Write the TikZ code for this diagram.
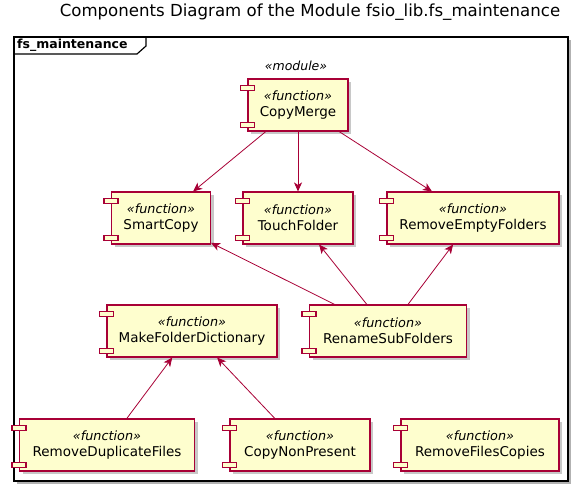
\documentclass[tikz,border=0pt]{standalone}
\usepackage{fontspec}
\setmainfont{DejaVu Sans}
\usetikzlibrary{arrows.meta,calc,shadows}
\definecolor{umlred}{HTML}{A80036}
\definecolor{umlfill}{HTML}{FEFECE}
\newcommand{\compfn}[1]{{\fontsize{12.8}{14}\selectfont\itshape «function»}\\#1}

\begin{document}
\begin{tikzpicture}[x=1pt,y=-1pt,>={Stealth[length=9pt,width=8pt,inset=2.5pt]},
  comp/.style={draw=umlred,fill=umlfill,line width=1.1pt,minimum height=52pt,inner sep=0pt,
    align=center,font=\fontsize{13.5}{16}\selectfont,
    drop shadow={shadow xshift=3pt,shadow yshift=-3pt,fill=black!30,opacity=0.7}},
  comptab/.style={draw=umlred,fill=umlfill,line width=1.1pt},
  dep/.style={draw=umlred,line width=0.8pt,->}]
  \useasboundingbox (0,0) rectangle (577,489);
  \node[font=\fontsize{16.6}{18}\selectfont] (title) at (310,12) {Components Diagram of the Module fsio\_lib.fs\_maintenance};

  % package frame
  \fill[black!30] (17,40) rectangle (571,484);
  \draw[line width=1.2pt,fill=white] (14,37) rectangle (568,481);
  \draw[line width=1.2pt] (14,54) -- (137,54) -- (146,46) -- (146,37);
  \node[anchor=west,inner sep=0pt,font=\bfseries\fontsize{12.5}{14}\selectfont] (frametitle) at (17,45.5) {fs\_maintenance};
  \node[font=\itshape\fontsize{12.5}{14}\selectfont] (modlabel) at (296,66) {«module»};

  \node[comp,minimum width=100pt] (copymerge) at (298,105) {\compfn{CopyMerge}};
  \node[comp,minimum width=99pt] (smartcopy) at (161,218) {\compfn{SmartCopy}};
  \node[comp,minimum width=110pt] (touchfolder) at (298,218) {\compfn{TouchFolder}};
  \node[comp,minimum width=172pt] (removeempty) at (473,218) {\compfn{RemoveEmptyFolders}};
  \node[comp,minimum width=170pt] (makedict) at (192,331) {\compfn{MakeFolderDictionary}};
  \node[comp,minimum width=157pt] (renamesub) at (388,331) {\compfn{RenameSubFolders}};
  \node[comp,minimum width=175pt] (removedup) at (107,445) {\compfn{RemoveDuplicateFiles}};
  \node[comp,minimum width=140pt] (copynonpres) at (300,445) {\compfn{CopyNonPresent}};
  \node[comp,minimum width=158pt] (removecopies) at (480,445) {\compfn{RemoveFilesCopies}};

  \foreach \c in {copymerge,smartcopy,touchfolder,removeempty,makedict,renamesub,removedup,copynonpres,removecopies} {
    \draw[comptab] ($(\c.north west)+(-7,7)$) rectangle ++(14,5);
    \draw[comptab] ($(\c.south west)+(-7,-9)$) rectangle ++(14,5);
  }

  \draw[dep] (copymerge) -- (smartcopy);
  \draw[dep] (copymerge) -- (touchfolder);
  \draw[dep] (copymerge) -- (removeempty);
  \draw[dep] (renamesub) -- (smartcopy);
  \draw[dep] (renamesub) -- (touchfolder);
  \draw[dep] (renamesub) -- (removeempty);
  \draw[dep] (removedup) -- (makedict);
  \draw[dep] (copynonpres) -- (makedict);
\end{tikzpicture}
\end{document}
